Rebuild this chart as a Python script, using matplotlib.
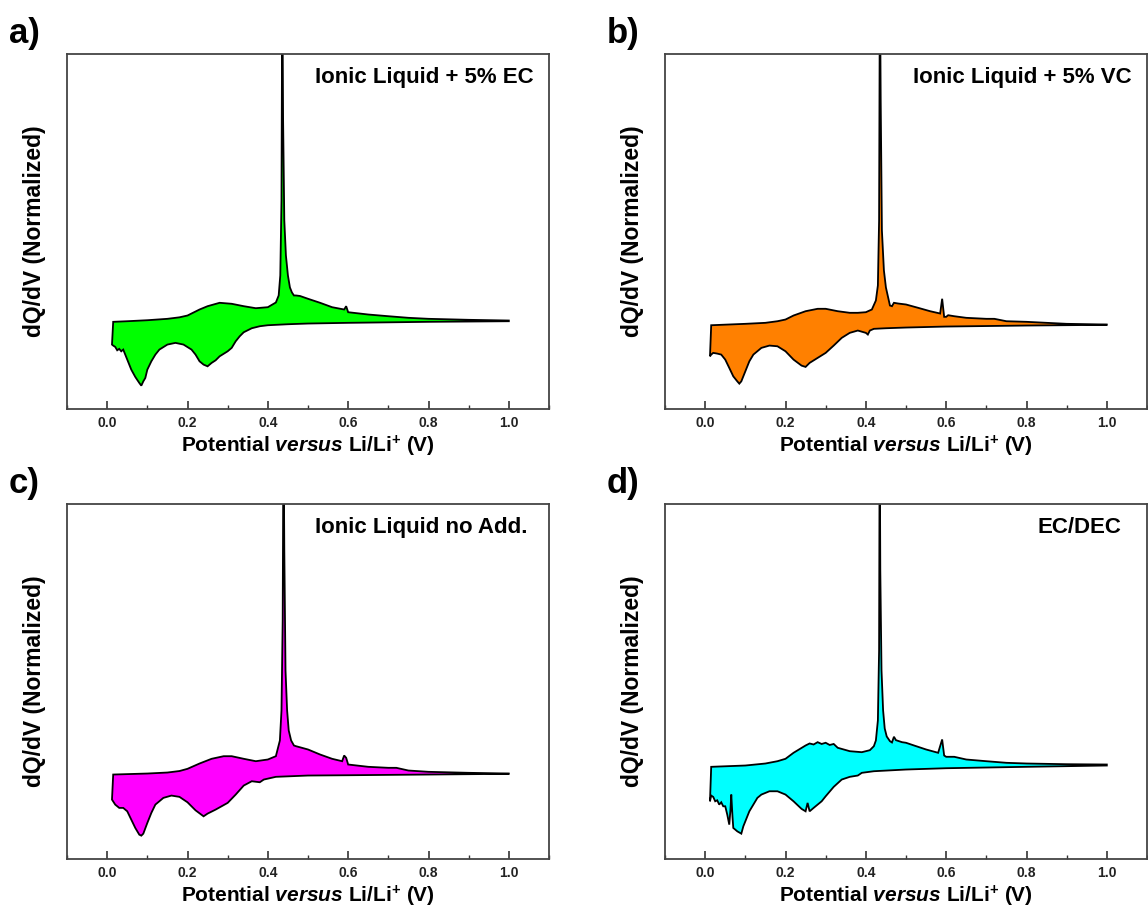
import matplotlib
matplotlib.use('Agg')
import matplotlib.pyplot as plt
from matplotlib.ticker import MultipleLocator

plt.rcParams['font.family'] = ['Liberation Sans', 'DejaVu Sans']
plt.rcParams['mathtext.fontset'] = 'custom'
plt.rcParams['mathtext.rm'] = 'Liberation Sans:bold'
plt.rcParams['mathtext.bf'] = 'Liberation Sans:bold'
plt.rcParams['mathtext.it'] = 'Liberation Sans:italic:bold'

# a) Ionic Liquid + 5% EC
xa_up = [0.015, 0.05, 0.10, 0.15, 0.18, 0.20, 0.215, 0.23, 0.25, 0.28, 0.31, 0.34, 0.37, 0.40, 0.42,
         0.427, 0.431, 0.434, 0.436, 0.438, 0.441, 0.445, 0.45, 0.455, 0.46, 0.465, 0.47,
         0.48, 0.50, 0.53, 0.56, 0.59, 0.595, 0.60, 0.65, 0.70, 0.75, 0.80, 0.90, 1.00]
ya_up = [-0.013, -0.007, 0.003, 0.017, 0.032, 0.05, 0.08, 0.11, 0.143, 0.177, 0.167, 0.143, 0.123, 0.133, 0.18,
         0.25, 0.45, 1.2, 3.5, 2.0, 1.0, 0.65, 0.45, 0.33, 0.28, 0.25, 0.25,
         0.245, 0.217, 0.177, 0.133, 0.11, 0.143, 0.083, 0.06, 0.043, 0.027, 0.017, 0.007, 0.0]
xa_lo = [0.012, 0.015, 0.02, 0.025, 0.03, 0.035, 0.04, 0.045, 0.05, 0.06, 0.07, 0.08, 0.085,
         0.09, 0.095, 0.10, 0.11, 0.12, 0.13, 0.15, 0.17, 0.19, 0.21, 0.22, 0.23, 0.24, 0.25,
         0.26, 0.27, 0.28, 0.30, 0.31, 0.32, 0.33, 0.34, 0.36, 0.38, 0.40, 0.45, 0.50, 0.60,
         0.80, 1.00]
ya_lo = [-0.24, -0.25, -0.263, -0.297, -0.283, -0.307, -0.29, -0.34, -0.39, -0.49, -0.563, -0.623, -0.65,
         -0.607, -0.573, -0.49, -0.407, -0.34, -0.29, -0.24, -0.223, -0.24, -0.29, -0.34, -0.407, -0.44, -0.457,
         -0.423, -0.397, -0.357, -0.307, -0.273, -0.207, -0.157, -0.117, -0.077, -0.057, -0.047, -0.037, -0.03, -0.023,
         -0.013, -0.007]

# b) Ionic Liquid + 5% VC
xb_up = [0.015, 0.10, 0.15, 0.18, 0.20, 0.22, 0.25, 0.28, 0.30, 0.33, 0.36, 0.38, 0.40, 0.415,
         0.425, 0.43, 0.433, 0.435, 0.437, 0.44, 0.445, 0.45, 0.455, 0.46, 0.465, 0.47,
         0.48, 0.50, 0.53, 0.56, 0.585, 0.59, 0.595, 0.60, 0.605, 0.62, 0.65, 0.70, 0.72,
         0.75, 0.80, 0.90, 1.00]
yb_up = [-0.047, -0.033, -0.023, -0.007, 0.01, 0.05, 0.093, 0.117, 0.117, 0.093, 0.077, 0.077, 0.083, 0.11,
         0.2, 0.35, 1.0, 3.5, 2.2, 0.9, 0.5, 0.33, 0.24, 0.15, 0.143, 0.177,
         0.17, 0.16, 0.127, 0.093, 0.07, 0.217, 0.037, 0.037, 0.053, 0.043, 0.027, 0.017, 0.017,
         -0.007, -0.013, -0.033, -0.04]
xb_lo = [0.012, 0.015, 0.02, 0.03, 0.04, 0.05, 0.06, 0.07, 0.08, 0.085, 0.09, 0.10, 0.11,
         0.12, 0.14, 0.16, 0.18, 0.20, 0.22, 0.24, 0.25, 0.26, 0.28, 0.30, 0.32, 0.34, 0.36,
         0.38, 0.40, 0.405, 0.41, 0.42, 0.45, 0.50, 0.60, 0.80, 1.00]
yb_lo = [-0.357, -0.34, -0.323, -0.33, -0.34, -0.39, -0.473, -0.557, -0.607, -0.63, -0.607, -0.507, -0.407,
         -0.34, -0.273, -0.25, -0.257, -0.307, -0.39, -0.45, -0.463, -0.423, -0.373, -0.323, -0.25, -0.173, -0.123,
         -0.1, -0.123, -0.14, -0.1, -0.083, -0.077, -0.07, -0.06, -0.05, -0.043]

# c) Ionic Liquid no Add.
xc_up = [0.015, 0.10, 0.15, 0.18, 0.20, 0.23, 0.26, 0.29, 0.31, 0.34, 0.37, 0.40, 0.42,
         0.43, 0.434, 0.437, 0.439, 0.441, 0.444, 0.448, 0.452, 0.458, 0.465, 0.47,
         0.50, 0.53, 0.56, 0.585, 0.59, 0.595, 0.60, 0.65, 0.70, 0.72, 0.75, 0.80, 0.90, 1.00]
yc_up = [-0.04, -0.03, -0.02, -0.005, 0.017, 0.07, 0.117, 0.143, 0.143, 0.117, 0.093, 0.11, 0.143,
         0.3, 0.6, 1.5, 3.5, 2.2, 1.0, 0.6, 0.4, 0.3, 0.25, 0.243,
         0.21, 0.16, 0.117, 0.093, 0.15, 0.127, 0.06, 0.037, 0.027, 0.027, 0.0, -0.013, -0.023, -0.03]
xc_lo = [0.012, 0.02, 0.03, 0.04, 0.05, 0.06, 0.07, 0.08, 0.085, 0.09, 0.10, 0.11, 0.12,
         0.14, 0.16, 0.18, 0.20, 0.22, 0.24, 0.25, 0.27, 0.30, 0.32, 0.34, 0.36, 0.38, 0.39,
         0.42, 0.50, 0.60, 0.80, 1.00]
yc_lo = [-0.29, -0.34, -0.373, -0.373, -0.407, -0.49, -0.573, -0.64, -0.65, -0.63, -0.523, -0.423, -0.34,
         -0.273, -0.25, -0.263, -0.317, -0.397, -0.457, -0.43, -0.39, -0.323, -0.24, -0.15, -0.107, -0.117, -0.09,
         -0.063, -0.05, -0.047, -0.04, -0.033]

# d) EC/DEC
xd_up = [0.015, 0.10, 0.15, 0.18, 0.20, 0.22, 0.25, 0.26, 0.27, 0.28, 0.29, 0.30, 0.31, 0.32, 0.33,
         0.36, 0.39, 0.41, 0.42, 0.425, 0.43, 0.433, 0.4345, 0.436, 0.439, 0.443, 0.447, 0.452,
         0.46, 0.465, 0.47, 0.475, 0.49, 0.50, 0.52, 0.55, 0.58, 0.59, 0.595, 0.60, 0.62,
         0.65, 0.70, 0.75, 0.80, 0.90, 1.00]
yd_up = [0.037, 0.05, 0.07, 0.093, 0.117, 0.177, 0.25, 0.27, 0.26, 0.283, 0.265, 0.277, 0.255, 0.265, 0.227,
         0.193, 0.183, 0.203, 0.243, 0.3, 0.5, 1.2, 3.5, 2.0, 1.0, 0.6, 0.42, 0.34,
         0.293, 0.28, 0.337, 0.303, 0.283, 0.277, 0.25, 0.21, 0.177, 0.31, 0.15, 0.137, 0.137,
         0.11, 0.093, 0.077, 0.07, 0.063, 0.06]
xd_lo = [0.012, 0.015, 0.02, 0.025, 0.03, 0.035, 0.04, 0.045, 0.05, 0.055, 0.06, 0.063, 0.065,
         0.068, 0.07, 0.08, 0.09, 0.095, 0.10, 0.11, 0.12, 0.13, 0.14, 0.16, 0.18, 0.20, 0.22,
         0.24, 0.25, 0.255, 0.26, 0.27, 0.29, 0.30, 0.32, 0.34, 0.36, 0.38, 0.39, 0.42, 0.50,
         0.60, 0.80, 1.00]
yd_lo = [-0.307, -0.25, -0.263, -0.307, -0.297, -0.34, -0.317, -0.357, -0.357, -0.44, -0.54, -0.39, -0.24,
         -0.46, -0.573, -0.607, -0.63, -0.557, -0.507, -0.407, -0.34, -0.273, -0.24, -0.207, -0.207, -0.24, -0.307,
         -0.383, -0.407, -0.323, -0.407, -0.373, -0.307, -0.257, -0.163, -0.09, -0.063, -0.05, -0.023, -0.007, 0.01,
         0.023, 0.037, 0.05]

panels = [
    ('a)', 'Ionic Liquid + 5% EC', '#00ff00', xa_up, ya_up, xa_lo, ya_lo, 0.515),
    ('b)', 'Ionic Liquid + 5% VC', '#ff8000', xb_up, yb_up, xb_lo, yb_lo, 0.515),
    ('c)', 'Ionic Liquid no Add.', '#ff00ff', xc_up, yc_up, xc_lo, yc_lo, 0.515),
    ('d)', 'EC/DEC', '#00ffff', xd_up, yd_up, xd_lo, yd_lo, 0.772),
]

W, H = 1148, 917
fig = plt.figure(figsize=(W / 100, H / 100), dpi=100)

# axes boxes in pixels: left, top
boxes = [(67, 54), (665, 54), (67, 504), (665, 504)]
aw, ah = 482, 355

for (lab, name, col, xu, yu, xl, yl, tx), (left, top) in zip(panels, boxes):
    ax = fig.add_axes([left / W, (H - top - ah) / H, aw / W, ah / H])
    # polygon: lower curve left->right, upper curve right->left
    px = list(xl) + list(xu)[::-1]
    py = list(yl) + list(yu)[::-1]
    ax.fill(px, py, facecolor=col, edgecolor='black', linewidth=1.3)
    ax.set_xlim(-0.1, 1.1)
    ax.set_ylim(-0.883, 2.66)
    ax.set_yticks([])
    ax.xaxis.set_minor_locator(MultipleLocator(0.1))
    ax.tick_params(axis='x', which='major', direction='in', length=6, width=1.2,
                   labelsize=10, pad=5, colors='#333333', labelcolor='#222222')
    ax.tick_params(axis='x', which='minor', direction='in', length=3, width=1.0, colors='#333333')
    ax.set_xticks([0.0, 0.2, 0.4, 0.6, 0.8, 1.0])
    ax.set_xticklabels(['0.0', '0.2', '0.4', '0.6', '0.8', '1.0'], fontweight='bold')
    for s in ax.spines.values():
        s.set_color('#444444')
        s.set_linewidth(1.3)
    ax.set_xlabel(r'Potential $versus$ Li/Li$^{+}$ (V)', fontsize=15, fontweight='bold', labelpad=3)
    ax.set_ylabel('dQ/dV (Normalized)', fontsize=16.5, fontweight='bold', labelpad=15)
    ax.text(tx, 0.935, name, transform=ax.transAxes, fontsize=16, fontweight='bold',
            ha='left', va='center')
    fig.text((left - 58) / W, 1 - (top - 21) / H, lab, fontsize=25, fontweight='bold',
             ha='left', va='center')

fig.savefig('out.png', dpi=100)
